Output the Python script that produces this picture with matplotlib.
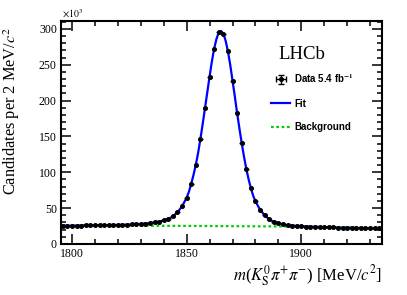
import numpy as np
import matplotlib
matplotlib.use("Agg")
import matplotlib.pyplot as plt
from matplotlib.lines import Line2D
from matplotlib.ticker import MultipleLocator

plt.rcParams["mathtext.fontset"] = "stix"

# ---- data (in units of 10^3 candidates per 2 MeV/c^2) ----
mass = [1796, 1798, 1800, 1802, 1804, 1806, 1808, 1810, 1812, 1814,
        1816, 1818, 1820, 1822, 1824, 1826, 1828, 1830, 1832, 1834,
        1836, 1838, 1840, 1842, 1844, 1846, 1848, 1850, 1852, 1854,
        1856, 1858, 1860, 1862, 1864, 1866, 1868, 1870, 1872, 1874,
        1876, 1878, 1880, 1882, 1884, 1886, 1888, 1890, 1892, 1894,
        1896, 1898, 1900, 1902, 1904, 1906, 1908, 1910, 1912, 1914,
        1916, 1918, 1920, 1922, 1924, 1926, 1928, 1930, 1932, 1934]
counts = [25.4, 25.5, 25.6, 25.7, 25.8, 25.9, 26.0, 26.1, 26.2, 26.3,
          26.4, 26.5, 26.6, 26.8, 27.0, 27.2, 27.5, 27.9, 28.4, 29.1,
          30.0, 31.2, 32.8, 35.0, 38.5, 44.0, 52.5, 64.2, 84.0, 110.5,
          146.5, 189.5, 233.5, 272.5, 295.2, 293.4, 268.7, 227.8, 182.8, 140.5,
          105.0, 78.0, 59.5, 48.0, 40.0, 34.5, 31.0, 28.8, 27.3, 26.3,
          25.6, 25.1, 24.7, 24.4, 24.1, 23.9, 23.7, 23.5, 23.3, 23.1,
          22.9, 22.8, 22.6, 22.5, 22.3, 22.2, 22.0, 21.9, 21.8, 21.7]

fit_mass = [1795, 1800, 1810, 1820, 1826, 1830, 1834, 1838, 1840, 1842,
            1844, 1846, 1848, 1850, 1851, 1852, 1853, 1854, 1855, 1856,
            1857, 1858, 1859, 1860, 1861, 1862, 1863, 1864, 1865, 1866,
            1867, 1868, 1869, 1870, 1871, 1872, 1873, 1874, 1875, 1876,
            1877, 1878, 1879, 1880, 1882, 1884, 1886, 1888, 1890, 1894,
            1900, 1910, 1920, 1935]
fit_vals = [25.3, 25.6, 26.1, 26.6, 27.2, 27.9, 29.1, 31.2, 32.8, 35.0,
            38.6, 44.2, 52.6, 64.5, 73.0, 84.0, 96.5, 110.5, 127.0, 146.5,
            167.5, 189.5, 211.5, 233.5, 254.5, 272.5, 286.0, 295.0, 297.0, 293.8,
            283.5, 268.7, 250.0, 228.0, 206.0, 182.8, 161.5, 141.0, 122.0, 105.0,
            90.5, 78.0, 67.5, 59.5, 48.0, 40.0, 34.5, 31.0, 28.8, 26.3,
            24.7, 23.5, 22.6, 21.6]

bkg_mass = [1795, 1840, 1890, 1935]
bkg_vals = [25.8, 25.4, 24.5, 22.3]

xtick_vals = [1800, 1850, 1900]
ytick_vals = [0, 50, 100, 150, 200, 250, 300]

# ---- figure ----
fig = plt.figure(figsize=(4.07, 2.95), dpi=100)
ax = fig.add_axes([61/407, 1-244/295, (382-61)/407, (244-21)/295])

serif = "Liberation Serif"
sans = "Liberation Sans"

mass_a = np.array(mass, dtype=float)
counts_a = np.array(counts, dtype=float)
yerr = np.sqrt(counts_a * 1000.0) / 1000.0

green = "#00cc00"
blue = "#0000ff"

ax.plot(bkg_mass, bkg_vals, color=green, ls=(0, (1.2, 1.2)), lw=1.6, zorder=2)
ax.plot(fit_mass, fit_vals, color=blue, lw=1.6, zorder=3)
ax.errorbar(mass_a, counts_a, xerr=1.0, yerr=yerr, fmt="o", color="black",
            ms=2.6, elinewidth=1.0, capsize=0, zorder=4)

ax.set_xlim(1795.2, 1935.2)
ax.set_ylim(0, 311)
ax.set_xticks(xtick_vals)
ax.set_yticks(ytick_vals)
ax.xaxis.set_minor_locator(MultipleLocator(10))
ax.yaxis.set_minor_locator(MultipleLocator(10))
ax.tick_params(which="both", direction="in", top=True, right=True,
               width=1.1, labelsize=8.5, pad=3)
ax.tick_params(which="major", length=7)
ax.tick_params(which="minor", length=3.5)
for lab in ax.get_xticklabels() + ax.get_yticklabels():
    lab.set_fontfamily(serif)
for s in ax.spines.values():
    s.set_linewidth(1.5)

ax.set_ylabel(r"Candidates per 2 MeV/$c^2$", fontfamily=serif, fontsize=11.8)
ax.yaxis.set_label_coords(-0.121, 0.595)
ax.set_xlabel(r"$m$($K^0_{\rm S}$$\pi^{+}\pi^{-}$) [MeV/$c^2$]",
              fontfamily=serif, fontsize=12, ha="right")
ax.xaxis.set_label_coords(1.0, -0.085)

fig.text(62/407, 1-14/295, r"$\times10^{3}$", fontfamily=serif, fontsize=7,
         ha="left", va="center")

# LHCb label and legend
fig.text(278/407, 1-55/295, "LHCb", fontfamily=serif, fontsize=13.5,
         ha="left", va="center")

eb = ax.errorbar([np.nan], [np.nan], xerr=[1.0], yerr=[1.0], fmt="o",
                 color="black", ms=2.6, elinewidth=1.0, capsize=2)
handles = [
    eb,
    Line2D([], [], color=blue, lw=1.6),
    Line2D([], [], color=green, lw=1.6, ls=(0, (1.2, 1.2))),
]
labels = [r"Data 5.4 fb$^{\mathbf{-1}}$", "Fit", "Background"]
leg = fig.legend(handles, labels, loc="upper left",
                 bbox_to_anchor=(271/407, 1-72/295), frameon=False,
                 prop={"family": sans, "weight": "bold", "size": 7},
                 handlelength=2.0, handletextpad=0.4, labelspacing=1.4,
                 borderpad=0, borderaxespad=0)

fig.savefig("out.png", dpi=100)
